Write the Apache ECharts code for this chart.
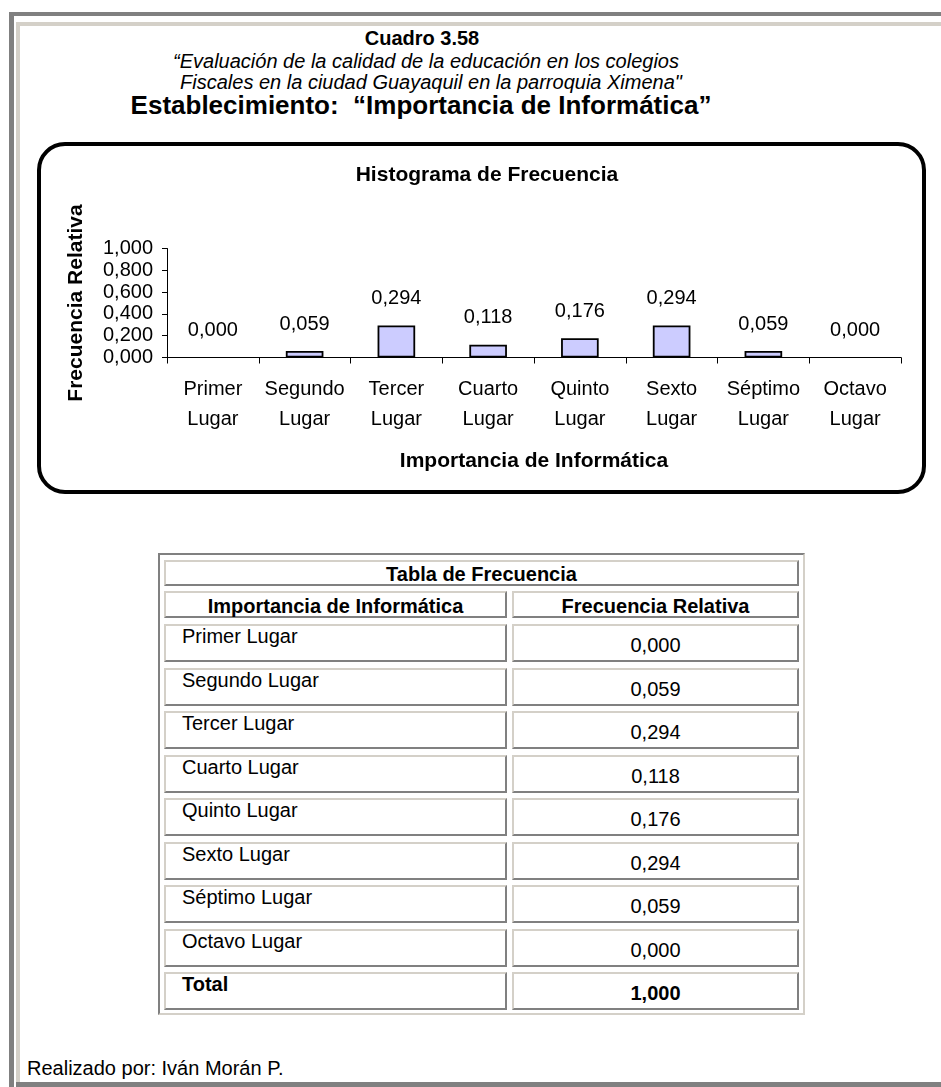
<!DOCTYPE html>
<html>
<head>
<meta charset="utf-8">
<script src="https://cdn.jsdelivr.net/npm/echarts@6/dist/echarts.min.js"></script>
<style>
  html, body { margin: 0; padding: 0; background: #fff; }
  body { width: 941px; height: 1087px; position: relative; overflow: hidden;
         font-family: 'Liberation Sans', Arial, Helvetica, sans-serif; color: #000; }
  .abs { position: absolute; }
  .line { position: absolute; white-space: nowrap; transform: translate(-50%, -50%); }
  .cell { position: absolute; box-sizing: border-box;
          border-top: 2px solid #d4d0c8; border-left: 2px solid #d4d0c8;
          border-bottom: 2px solid #808080; border-right: 2px solid #808080; }
  .txt { position: absolute; white-space: nowrap; font-size: 20px; line-height: 20px; }
</style>
</head>
<body>
<!-- page frame -->
<div class="abs" style="left:9px;top:12px;width:932px;height:4px;background:#808080"></div>
<div class="abs" style="left:9px;top:12px;width:5px;height:1075px;background:#808080"></div>
<div class="abs" style="left:16px;top:22px;width:925px;height:4px;background:#d4d0c8"></div>
<div class="abs" style="left:16px;top:22px;width:4px;height:1060px;background:#d4d0c8"></div>
<div class="abs" style="left:16px;top:1082px;width:925px;height:5px;background:#808080"></div>

<!-- headings -->
<div class="line" style="left:422px;top:38px;font-size:20px;font-weight:bold">Cuadro 3.58</div>
<div class="line" style="left:426px;top:61px;font-size:20px;font-style:italic">“Evaluación de la calidad de la educación en los colegios</div>
<div class="line" style="left:431px;top:82px;font-size:20px;font-style:italic">Fiscales en la ciudad Guayaquil en la parroquia Ximena"</div>
<div class="line" style="left:421px;top:105px;font-size:26px;font-weight:bold">Establecimiento:&nbsp; “Importancia de Informática”</div>

<!-- chart -->
<div id="chart" class="abs" style="left:0;top:0;width:941px;height:520px"></div>
<div class="abs" style="left:37px;top:142px;width:889px;height:352px;box-sizing:border-box;border:4px solid #000;border-radius:28px;pointer-events:none"></div>

<!-- table -->
<div id="table" class="abs" style="left:158px;top:553px;width:647px;height:462px;box-sizing:border-box;border-top:2px solid #808080;border-left:2px solid #808080;border-bottom:2px solid #d4d0c8;border-right:2px solid #d4d0c8"></div>

<div class="txt" style="left:27px;top:1058px">Realizado por: Iván Morán P.</div>

<script>
// ---- data ----
const chartTitle = 'Histograma de Frecuencia';
const xAxisTitle = 'Importancia de Informática';
const yAxisTitle = 'Frecuencia Relativa';
const categories = ['Primer Lugar', 'Segundo Lugar', 'Tercer Lugar', 'Cuarto Lugar',
                    'Quinto Lugar', 'Sexto Lugar', 'Séptimo Lugar', 'Octavo Lugar'];
const values = [0.000, 0.059, 0.294, 0.118, 0.176, 0.294, 0.059, 0.000];
const totalValue = 1.000;
const yMin = 0, yMax = 1, yInterval = 0.2;
const tableTitle = 'Tabla de Frecuencia';
const tableHeaders = ['Importancia de Informática', 'Frecuencia Relativa'];
const totalLabel = 'Total';

const fmt = v => v.toFixed(3).replace('.', ',');
const FONT = "'Liberation Sans', Arial, Helvetica, sans-serif";

// ---- chart ----
const chart = echarts.init(document.getElementById('chart'), null, { renderer: 'canvas' });
chart.setOption({
  animation: false,
  textStyle: { fontFamily: FONT, color: '#000' },
  title: {
    text: chartTitle, left: 482, top: 160, textAlign: 'center',
    textStyle: { fontFamily: FONT, fontSize: 21, fontWeight: 'bold', color: '#000' }
  },
  grid: { left: 167, top: 248.5, width: 734, height: 109, containLabel: false },
  xAxis: {
    type: 'category',
    data: categories.map(c => c.replace(' ', '\n')),
    boundaryGap: true,
    name: xAxisTitle, nameLocation: 'middle', nameGap: 93,
    nameTextStyle: { fontFamily: FONT, fontSize: 21, fontWeight: 'bold', color: '#000' },
    axisLine: { show: true, lineStyle: { color: '#000', width: 1 } },
    axisTick: { show: true, interval: 0, length: 6, inside: false, lineStyle: { color: '#000' } },
    axisLabel: { interval: 0, margin: 17, fontFamily: FONT, fontSize: 20, lineHeight: 30, color: '#000' },
    splitLine: { show: false }
  },
  yAxis: {
    type: 'value', min: yMin, max: yMax, interval: yInterval,
    name: yAxisTitle, nameLocation: 'middle', nameGap: 80, nameRotate: 90,
    nameTextStyle: { fontFamily: FONT, fontSize: 21, fontWeight: 'bold', color: '#000' },
    axisLine: { show: true, lineStyle: { color: '#000', width: 1 } },
    axisTick: { show: true, length: 5, inside: false, lineStyle: { color: '#000' } },
    axisLabel: { margin: 14, fontFamily: FONT, fontSize: 20, color: '#000', formatter: v => fmt(v) },
    splitLine: { show: false }
  },
  series: [{
    type: 'bar',
    data: values.map(v => v === 0 ? { value: v, itemStyle: { borderWidth: 0, opacity: 0 } } : v),
    barWidth: '41%',
    itemStyle: { color: '#ccccff', borderColor: '#000', borderWidth: 1.8 },
    label: { show: true, position: 'top', distance: 17, fontFamily: FONT, fontSize: 20, color: '#000',
             opacity: 1, formatter: p => fmt(p.value) }
  }]
});

// ---- table ----
const table = document.getElementById('table');
const OX = 158, OY = 553;
function cell(x, y, w, h) {
  const d = document.createElement('div');
  d.className = 'cell';
  d.style.left = (x - OX - 2) + 'px';
  d.style.top = (y - OY - 2) + 'px';
  d.style.width = w + 'px';
  d.style.height = h + 'px';
  table.appendChild(d);
  return d;
}
function text(parent, str, css) {
  const t = document.createElement('div');
  t.className = 'txt';
  t.textContent = str;
  Object.assign(t.style, css);
  parent.appendChild(t);
  return t;
}
let c = cell(164, 560, 635, 26);
text(c, tableTitle, { left: 0, right: 0, textAlign: 'center', top: '2px', fontWeight: 'bold' });
c = cell(164, 591, 343, 27);
text(c, tableHeaders[0], { left: 0, right: 0, textAlign: 'center', top: '3px', fontWeight: 'bold' });
c = cell(512, 591, 287, 27);
text(c, tableHeaders[1], { left: 0, right: 0, textAlign: 'center', top: '3px', fontWeight: 'bold' });

const rows = categories.map((cat, i) => [cat, values[i], false]).concat([[totalLabel, totalValue, true]]);
rows.forEach((r, i) => {
  const top = Math.round(624 + i * 43.5);
  const a = cell(164, top, 343, 38);
  text(a, r[0], { left: '16px', top: '0px', fontWeight: r[2] ? 'bold' : 'normal' });
  const b = cell(512, top, 287, 38);
  text(b, fmt(r[1]), { left: 0, right: 0, textAlign: 'center', top: '9px', fontWeight: r[2] ? 'bold' : 'normal' });
});
</script>
</body>
</html>
